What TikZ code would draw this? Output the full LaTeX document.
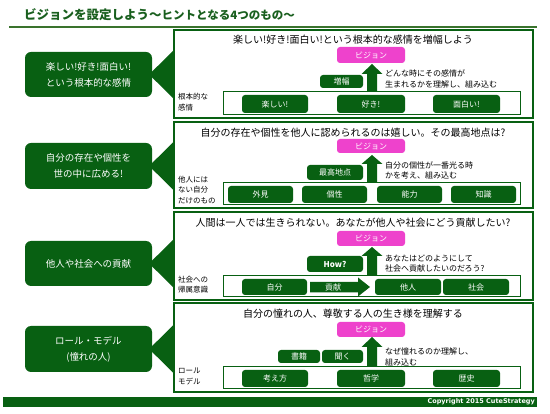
\documentclass[tikz,border=0pt]{standalone}
\usepackage{fontspec}
\setmainfont{Noto Sans CJK JP}
\newfontfamily\copyfont{DejaVu Sans}
\usetikzlibrary{calc}
\definecolor{dg}{RGB}{8,96,18}
\definecolor{tg}{RGB}{25,95,30}
\definecolor{lg}{RGB}{58,115,45}
\definecolor{pk}{RGB}{238,66,204}
\newcommand\fs[2]{\fontsize{#1}{#2}\selectfont}
\tikzset{
  panel/.style={draw=dg, line width=1.3pt, fill=white, inner sep=0},
  innerbox/.style={draw=dg, line width=1pt, fill=white, inner sep=0},
  lbox/.style={fill=dg, rounded corners=6pt, text=white, font=\fs{9.5}{16}, align=center, inner sep=0},
  item/.style={fill=dg, rounded corners=3pt, text=white, font=\fs{8}{9}, inner sep=0},
  vis/.style={fill=pk, rounded corners=3pt, text=white, font=\fs{8}{9}, inner sep=0},
  head/.style={font=\fs{10}{12}, inner sep=0},
  note/.style={font=\fs{8}{10.5}, align=left, anchor=west, inner sep=0},
  side/.style={font=\fs{7.5}{10.5}, align=left, anchor=north west, inner sep=0},
}
\newcommand\bx[7]{\node[#1, minimum width={#4-#2}, minimum height={#5-#3}] (#6) at ({(#2+#4)/2},{(#3+#5)/2}) {#7};}
\newcommand\uparr[4]{\fill[dg] ({#1-5},#4) -- ({#1-5},#3) -- ({#1-10.5},#3) -- (#1,#2) -- ({#1+10.5},#3) -- ({#1+5},#3) -- ({#1+5},#4) -- cycle;}
\newcommand\tri[2]{\fill[dg] (#1.east -| #2.west) ++(0,-24) -- ++(0,48) -- ($(#1.east)+(-3,0)$) -- cycle;}
\begin{document}
\begin{tikzpicture}[x=1pt,y=-1pt]
\useasboundingbox (0,0) rectangle (550,414);
\fill[white] (0,0) rectangle (550,414);
% title
\node[anchor=west, inner sep=0, text=tg, font=\bfseries] (title) at (24,15) {\fs{12.5}{14}ビジョンを設定しよう～\fs{11.5}{14}ヒントとなる4つのもの～};
\draw[lg, line width=2pt] (9,27) -- (537,27);
% panels
\bx{panel}{174}{30}{533}{118}{P1}{}
\bx{panel}{174}{122}{533}{208}{P2}{}
\bx{panel}{174}{212}{533}{300}{P3}{}
\bx{panel}{174}{303}{533}{392}{P4}{}
% left boxes
\bx{lbox}{25}{52}{152}{97}{L1}{楽しい!好き!面白い!\\という根本的な感情}
\bx{lbox}{25}{143}{152}{189}{L2}{自分の存在や個性を\\世の中に広める!}
\bx{lbox}{25}{241}{152}{286}{L3}{他人や社会への貢献}
\bx{lbox}{25}{326}{152}{372}{L4}{ロール・モデル\\(憧れの人)}
\tri{L1}{P1}
\tri{L2}{P2}
\tri{L3}{P3}
\tri{L4}{P4}
% ---- panel 1
\node[head] (h1) at (353,40) {楽しい!好き!面白い!という根本的な感情を増幅しよう};
\bx{vis}{337}{47}{405}{63}{v1}{ビジョン}
\bx{innerbox}{223}{92}{520}{115}{i1}{}
\bx{item}{242}{95}{308}{113}{a1}{楽しい!}
\bx{item}{337}{95}{405}{113}{a2}{好き!}
\bx{item}{433}{95}{500}{113}{a3}{面白い!}
\uparr{372}{64}{74}{92}
\bx{item}{320}{75}{363}{88}{s1}{増幅}
\node[note] (n1) at (385,79) {どんな時にその感情が\\生まれるかを理解し、組み込む};
\node[side] (sd1) at (178,93) {根本的な\\感情};
% ---- panel 2
\node[head] (h2) at (353,133) {自分の存在や個性を他人に認められるのは嬉しい。その最高地点は?};
\bx{vis}{337}{139}{405}{153}{v2}{ビジョン}
\bx{innerbox}{223}{183}{520}{205}{i2}{}
\bx{item}{228}{186}{293}{203}{b1}{外見}
\bx{item}{302}{186}{367}{203}{b2}{個性}
\bx{item}{377}{186}{442}{203}{b3}{能力}
\bx{item}{451}{186}{516}{203}{b4}{知識}
\uparr{372}{155}{164}{183}
\bx{item}{307}{165}{363}{180}{s2}{最高地点}
\node[note] (n2) at (385,170.5) {自分の個性が一番光る時\\かを考え、組み込む};
\node[side] (sd2) at (178,176) {他人には\\ない自分\\だけのもの};
% ---- panel 3
\node[head] (h3) at (353,223) {人間は一人では生きられない。あなたが他人や社会にどう貢献したい?};
\bx{vis}{337}{231}{405}{246}{v3}{ビジョン}
\bx{innerbox}{223}{276}{520}{297}{i3}{}
\bx{item}{242}{279}{307}{295}{c1}{自分}
\fill[dg] (310,282) -- (358,282) -- (358,277.5) -- (370,287) -- (358,296.5) -- (358,292.5) -- (310,292.5) -- cycle;
\node[text=white, font=\fs{8}{9}, inner sep=0] (c2) at (333,287) {貢献};
\bx{item}{375}{279}{441}{295}{c3}{他人}
\bx{item}{443}{279}{509}{295}{c4}{社会}
\uparr{372}{247}{256}{276}
\bx{item}{307}{256}{363}{272}{s3}{\bfseries How?}
\node[note] (n3) at (385,263.5) {あなたはどのようにして\\社会へ貢献したいのだろう?};
\node[side] (sd3) at (178,276) {社会への\\帰属意識};
% ---- panel 4
\node[head] (h4) at (353,314) {自分の憧れの人、尊敬する人の生き様を理解する};
\bx{vis}{337}{322}{405}{337}{v4}{ビジョン}
\bx{innerbox}{223}{367}{520}{389}{i4}{}
\bx{item}{242}{370}{308}{387}{d1}{考え方}
\bx{item}{337}{370}{405}{387}{d2}{哲学}
\bx{item}{433}{370}{500}{387}{d3}{歴史}
\uparr{372}{337}{347}{367}
\bx{item}{278}{350}{320}{363}{s4}{書籍}
\bx{item}{322}{350}{363}{363}{s5}{聞く}
\node[note] (n4) at (385,357) {なぜ憧れるのか理解し、\\組み込む};
\node[side] (sd4) at (178,368) {ロール\\モデル};
% footer
\bx{item, rounded corners=0}{3}{397}{537}{407}{foot}{}
\node[anchor=east, inner sep=0, text=white, font=\copyfont\bfseries\fs{6.5}{8}] (copy) at (535,402) {Copyright 2015 CuteStrategy};
\end{tikzpicture}
\end{document}
